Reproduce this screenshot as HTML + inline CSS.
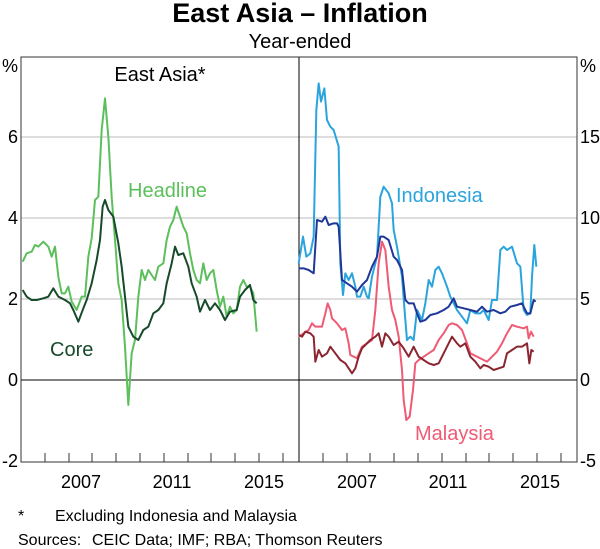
<!DOCTYPE html>
<html><head><meta charset="utf-8"><style>
body{margin:0;background:#fff}
svg{display:block;font-family:"Liberation Sans",Arial,sans-serif}
</style></head><body>
<svg width="600" height="549" viewBox="0 0 600 549" xmlns="http://www.w3.org/2000/svg">
<text x="300" y="22" font-size="27" font-weight="bold" text-anchor="middle">East Asia – Inflation</text>
<text x="300" y="48" font-size="20" text-anchor="middle">Year-ended</text>
<g stroke="#bbb" stroke-width="1">
<line x1="21" y1="137" x2="577" y2="137"/><line x1="21" y1="218" x2="577" y2="218"/><line x1="21" y1="299" x2="577" y2="299"/>
</g>
<line x1="21" y1="380" x2="577" y2="380" stroke="#000" stroke-width="1"/>
<line x1="299" y1="57" x2="299" y2="462" stroke="#000" stroke-width="1"/>
<rect x="21" y="57" width="556" height="405" fill="none" stroke="#333" stroke-width="1"/>
<g stroke="#333" stroke-width="1">
<path d="M45 462v-9M69 462v-9M92 462v-9M116 462v-9M140 462v-9M164 462v-9M188 462v-9M211 462v-9M235 462v-9M259 462v-9M283 462v-9M323 462v-9M347 462v-9M370 462v-9M394 462v-9M418 462v-9M442 462v-9M466 462v-9M489 462v-9M513 462v-9M537 462v-9M561 462v-9"/>
</g>
<g font-size="18" fill="#000">
<text x="81" y="488" text-anchor="middle">2007</text><text x="172" y="488" text-anchor="middle">2011</text><text x="264" y="488" text-anchor="middle">2015</text>
<text x="357" y="488" text-anchor="middle">2007</text><text x="448" y="488" text-anchor="middle">2011</text><text x="540" y="488" text-anchor="middle">2015</text>
<g text-anchor="end"><text x="18" y="72">%</text><text x="18" y="143">6</text><text x="18" y="224">4</text><text x="18" y="305">2</text><text x="18" y="386">0</text><text x="18" y="467">-2</text></g>
<text x="580" y="72">%</text><text x="580" y="143">15</text><text x="580" y="224">10</text><text x="580" y="305">5</text><text x="580" y="386">0</text><text x="580" y="467">-5</text>
</g>
<text x="160" y="81" font-size="20" text-anchor="middle">East Asia*</text>
<text x="128" y="197" font-size="20" fill="#5cbf5c">Headline</text>
<text x="50" y="356" font-size="20" fill="#174a2b">Core</text>
<text x="396" y="202" font-size="20" fill="#2aa4dd">Indonesia</text>
<text x="415" y="440" font-size="20" fill="#ef5a74">Malaysia</text>
<g fill="none" stroke-width="2" stroke-linejoin="round">
<g transform="translate(20,80) scale(0.33333)">
<polyline vector-effect="non-scaling-stroke" stroke="#5cbf5c" points="8,545 20,520 35,515 45,495 55,500 70,485 85,500 95,530 105,500 115,590 125,640 135,640 145,620 155,665 170,690 185,650 195,650 205,530 215,475 225,360 235,350 245,150 255,55 265,170 275,350 285,480 295,610 305,660 315,800 325,975 335,820 345,780 355,650 365,570 375,600 385,570 395,585 405,600 415,560 430,550 440,480 450,440 460,420 470,380 480,410 490,440 500,460 510,520 520,570 530,600 540,610 550,550 560,600 570,580 580,570 590,630 600,680 610,650 620,710 630,680 640,700 650,690 660,620 670,600 680,620 690,620 700,640 710,755"/>
<polyline vector-effect="non-scaling-stroke" stroke="#174a2b" points="8,630 20,650 35,660 50,660 70,655 85,650 100,625 115,650 135,660 150,670 160,690 175,725 190,685 200,660 215,610 230,540 240,480 248,380 255,360 265,390 280,410 295,490 305,560 315,650 325,740 340,770 355,780 370,750 385,740 400,700 415,690 430,670 440,610 455,550 465,500 475,525 490,520 505,560 515,610 530,650 540,695 555,660 570,690 585,670 600,690 615,720 630,695 650,690 660,650 675,630 690,615 700,660 710,670"/>
</g>
<g transform="translate(297,70) scale(0.33333)">
<polyline vector-effect="non-scaling-stroke" stroke="#2aa4dd" points="5,580 18,500 28,560 40,550 50,500 58,120 65,40 72,95 82,55 90,150 100,170 110,180 125,230 130,580 138,675 145,610 155,630 165,610 175,650 180,680 190,680 200,650 210,680 215,685 225,620 240,560 250,380 260,350 275,370 285,400 290,480 300,530 315,620 325,750 330,810 340,800 350,810 360,720 375,750 385,700 395,630 405,650 415,600 425,590 435,610 450,650 460,680 470,700 480,720 495,740 510,760 520,720 535,730 550,730 560,720 575,750 585,690 600,690 610,540 620,530 630,540 645,530 660,580 670,590 680,720 690,735 700,730 705,620 712,525 718,590"/>
<polyline vector-effect="non-scaling-stroke" stroke="#1f3797" points="5,595 20,595 35,600 50,610 60,450 75,455 85,440 95,465 110,460 120,460 125,470 135,630 150,640 165,650 180,665 195,645 210,630 225,590 240,560 250,500 260,500 275,510 290,560 300,570 315,600 325,690 335,700 350,700 360,730 370,755 385,750 400,735 420,730 440,720 455,710 470,685 480,710 500,715 520,720 540,725 555,710 570,725 590,720 610,730 625,725 640,710 660,705 675,700 690,730 700,730 710,690 716,695"/>
<polyline vector-effect="non-scaling-stroke" stroke="#ef5a74" points="5,800 20,790 35,780 45,760 55,770 75,770 85,730 92,700 100,720 105,745 120,760 135,780 145,775 155,820 160,855 180,865 195,830 210,820 225,810 235,720 245,580 255,515 265,540 275,650 285,720 295,750 305,800 315,900 320,990 328,1050 338,1040 348,960 355,880 365,870 380,860 395,850 410,840 425,810 440,790 455,765 465,760 480,765 495,780 510,820 520,850 540,860 560,870 570,875 585,860 600,845 615,820 630,790 645,765 660,770 680,775 690,770 695,805 702,785 710,800"/>
<polyline vector-effect="non-scaling-stroke" stroke="#8b2530" points="5,795 15,800 25,785 40,790 50,800 55,875 65,840 75,860 90,850 100,830 115,850 130,870 145,880 155,895 165,910 175,895 185,860 195,835 205,825 220,810 235,800 245,790 255,830 265,790 275,800 290,825 305,815 320,835 335,860 350,830 365,860 380,870 395,880 410,885 425,880 435,860 450,830 465,800 480,820 490,830 505,820 520,860 535,875 550,895 560,885 575,890 590,900 605,895 620,890 630,850 645,840 660,830 675,830 690,820 697,880 703,840 710,845"/>
</g>
</g>
<text x="18" y="521" font-size="16">*</text>
<text x="55" y="521" font-size="16">Excluding Indonesia and Malaysia</text>
<text x="18" y="545" font-size="16">Sources:</text>
<text x="92" y="545" font-size="16">CEIC Data; IMF; RBA; Thomson Reuters</text>
</svg>
</body></html>
